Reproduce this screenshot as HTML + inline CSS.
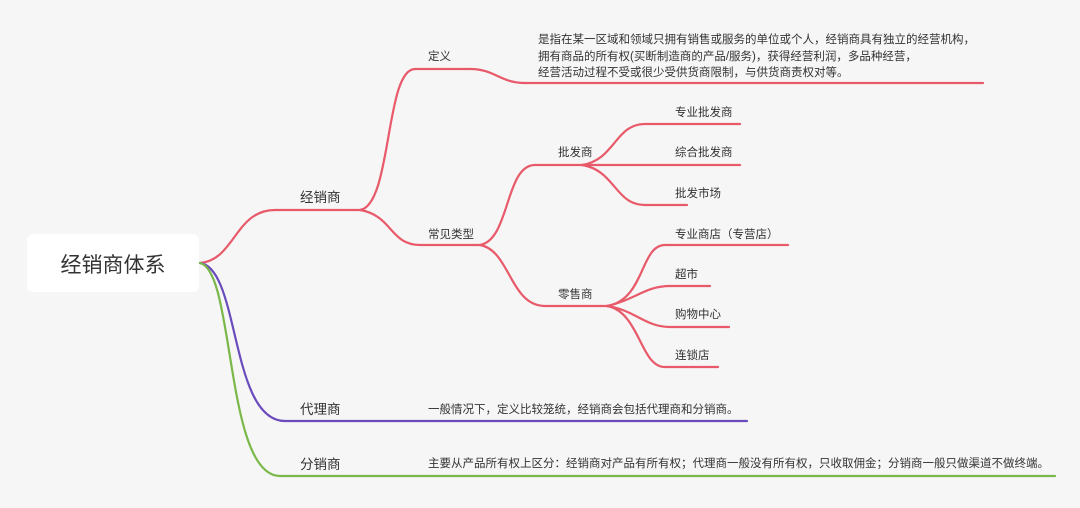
<!DOCTYPE html>
<html><head><meta charset="utf-8"><style>
html,body{margin:0;padding:0;background:#f6f6f6;}
svg text{font-family:"Liberation Sans","Noto Sans CJK SC",sans-serif;fill:#333;}
</style></head><body>
<svg width="1080" height="503" viewBox="0 0 1080 503" xmlns="http://www.w3.org/2000/svg">
<rect width="1080" height="503" fill="#f6f6f6"/>
<rect x="27" y="234" width="172" height="58" rx="6" fill="#fff"/>
<text x="113" y="272" font-size="21" text-anchor="middle">经销商体系</text>
<g fill="none" stroke-width="2.2" stroke-linecap="round">
<g stroke="#e85a6a">
<path d="M200 263 C235 260 235 210 275 210 L360 210"/>
<path d="M360 210 C392 205 385 69 415 69 L470 69 C495 69 500 83 525 83 L983 83"/>
<path d="M360 210 C392 215 390 245 420 245 L480 245"/>
<path d="M480 245 C510 240 505 165 535 165 L582 165"/>
<path d="M582 165 C615 160 615 124 645 124 L740 124"/>
<path d="M582 165 L740 165"/>
<path d="M582 165 C615 170 615 205 645 205 L687 205"/>
<path d="M480 245 C510 250 510 306 545 306 L607 306"/>
<path d="M607 306 C645 300 640 245 665 245 L788 245"/>
<path d="M607 306 C635 300 645 286 670 286 L710 286"/>
<path d="M607 306 C635 310 645 327 670 327 L729 327"/>
<path d="M607 306 C640 312 640 367 665 367 L718 367"/>
</g>
<path stroke="#6a4cbc" d="M200 263 C240 268 230 421 285 421 L747 421"/>
<path stroke="#7ab84a" d="M200 263 C235 270 225 476 280 476 L1055 476"/>
</g>
<g font-size="13.5">
<text x="300" y="202">经销商</text>
<text x="300" y="414">代理商</text>
<text x="300" y="469">分销商</text>
</g>
<g font-size="11.5">
<text x="428" y="60">定义</text>
<text x="428" y="238">常见类型</text>
<text x="558" y="156">批发商</text>
<text x="558" y="298">零售商</text>
<text x="675" y="116">专业批发商</text>
<text x="675" y="156">综合批发商</text>
<text x="675" y="197">批发市场</text>
<text x="675" y="238">专业商店（专营店）</text>
<text x="675" y="278">超市</text>
<text x="675" y="318">购物中心</text>
<text x="675" y="359">连锁店</text>
<text x="538" y="43">是指在某一区域和领域只拥有销售或服务的单位或个人，经销商具有独立的经营机构，</text>
<text x="538" y="60">拥有商品的所有权(买断制造商的产品/服务)，获得经营利润，多品种经营，</text>
<text x="538" y="76">经营活动过程不受或很少受供货商限制，与供货商责权对等。</text>
<text x="428" y="413">一般情况下，定义比较笼统，经销商会包括代理商和分销商。</text>
<text x="428" y="467">主要从产品所有权上区分：经销商对产品有所有权；代理商一般没有所有权，只收取佣金；分销商一般只做渠道不做终端。</text>
</g>
</svg>
</body></html>
